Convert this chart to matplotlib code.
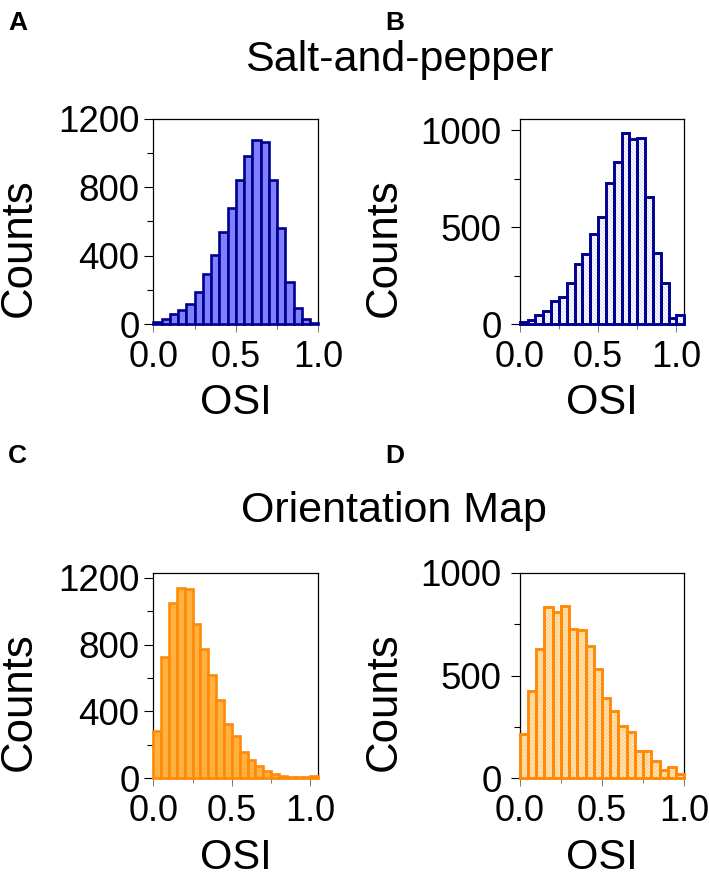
#!/usr/bin/env python3
"""OSI histograms, salt-and-pepper vs orientation map, 4 panels."""
import matplotlib
matplotlib.use('Agg')
import matplotlib.pyplot as plt
import numpy as np
from matplotlib.ticker import MultipleLocator

plt.rcParams['font.family'] = ['Liberation Sans', 'DejaVu Sans']
plt.rcParams['hatch.linewidth'] = 0.5

W, H = 709, 874
BIN = 0.05

# ── Data ──────────────────────────────────────────────────────────────────────
counts_a = [15, 30, 58, 84, 120, 190, 292, 405, 540, 680,
            844, 980, 1075, 1064, 840, 560, 247, 95, 30, 10]
counts_b = [10, 22, 48, 69, 122, 143, 211, 313, 363, 466, 552,
            730, 838, 985, 955, 962, 658, 366, 213, 34, 48]
counts_c = [283, 724, 1050, 1140, 1132, 923, 773, 620, 468, 327, 253,
            155, 110, 76, 42, 26, 16, 10, 8, 6, 14]
counts_d = [214, 425, 627, 835, 810, 838, 724, 720, 642, 533,
            389, 329, 256, 225, 133, 133, 83, 42, 53, 21]

xticks = [0.0, 0.5, 1.0]
xticklabels = ['0.0', '0.5', '1.0']
yticks_left = [0, 400, 800, 1200]
yticks_right = [0, 500, 1000]

# ── Colours ───────────────────────────────────────────────────────────────────
C_BLUE = '#00008F'
C_BLUE_FILL = '#8080FF'
C_BLUE_HATCH = '#C4C4F4'
C_ORANGE = '#FF8A0A'
C_ORANGE_FILL = '#FFB23F'
C_ORANGE_HATCH = '#FFBE5A'


def axes_px(left, top, right, bottom):
    return fig.add_axes([left / W, 1 - bottom / H, (right - left) / W, (bottom - top) / H])


def hist_panel(ax, counts, edge, fill, hatch_col, xmax, ymax, yticks, yminor,
               ylab_x, ypad, xlab_pad):
    edges = np.arange(len(counts)) * BIN
    if hatch_col is None:
        ax.bar(edges, counts, width=BIN, align='edge', color=fill, edgecolor=edge,
               lw=1.9, clip_on=False, zorder=3)
    else:
        ax.bar(edges, counts, width=BIN, align='edge', facecolor=fill, edgecolor=hatch_col,
               hatch='\\' * 10, lw=0, zorder=2)
        ax.bar(edges, counts, width=BIN, align='edge', fill=False, edgecolor=edge,
               lw=2.1, clip_on=False, zorder=3)
    ax.set_xlim(0, xmax)
    ax.set_ylim(0, ymax)
    ax.set_xticks(xticks)
    ax.set_xticklabels(xticklabels)
    ax.set_yticks(yticks)
    ax.xaxis.set_minor_locator(MultipleLocator(0.25))
    ax.yaxis.set_minor_locator(MultipleLocator(yminor))
    ax.tick_params(axis='y', which='major', length=6.5, width=0.8, labelsize=26.5, pad=ypad)
    ax.tick_params(axis='y', which='minor', length=4.5, width=0.8)
    ax.tick_params(axis='x', which='major', length=6, width=0.7, color='#777777', labelsize=26, pad=5)
    ax.tick_params(axis='x', which='minor', length=3.5, width=0.7, color='#777777')
    for s in ax.spines.values():
        s.set_linewidth(0.9)
    ax.set_xlabel('OSI', fontsize=30, labelpad=xlab_pad)
    ax.set_ylabel('Counts', fontsize=31.5)
    ax.yaxis.set_label_coords(ylab_x, 0.375)


fig = plt.figure(figsize=(W / 100, H / 100), dpi=100, facecolor='white')

ax_a = axes_px(153.3, 118.7, 318.3, 324.3)
ax_b = axes_px(519.7, 118.7, 684.3, 324.3)
ax_c = axes_px(153.3, 572.7, 318.3, 778.3)
ax_d = axes_px(519.7, 572.7, 684.3, 778.3)

hist_panel(ax_a, counts_a, C_BLUE, C_BLUE_FILL, None, 1.0, 1200, yticks_left, 200, -0.69, 3.5, 6)
hist_panel(ax_b, counts_b, C_BLUE, 'white', C_BLUE_HATCH, 1.05, 1060, yticks_right, 250, -0.70, 6.5, 6)
hist_panel(ax_c, counts_c, C_ORANGE, C_ORANGE_FILL, None, 1.05, 1230, yticks_left, 200, -0.69, 3.5, 7)
hist_panel(ax_d, counts_d, C_ORANGE, '#FFE6BC', C_ORANGE_HATCH, 1.0, 1000, yticks_right, 250, -0.70, 6.5, 7)

# ── Titles and panel letters ──────────────────────────────────────────────────
fig.text(399 / W, 1 - 71 / H, 'Salt-and-pepper', fontsize=31, ha='center', va='baseline')
fig.text(394 / W, 1 - 522 / H, 'Orientation Map', fontsize=31, ha='center', va='baseline')
for lab, x, y in [('A', 8, 30), ('B', 385, 30), ('C', 8, 463), ('D', 385, 463)]:
    fig.text(x / W, 1 - y / H, lab, fontsize=19, fontweight='bold', ha='left', va='baseline')

fig.savefig('out.png', dpi=100, facecolor='white')
